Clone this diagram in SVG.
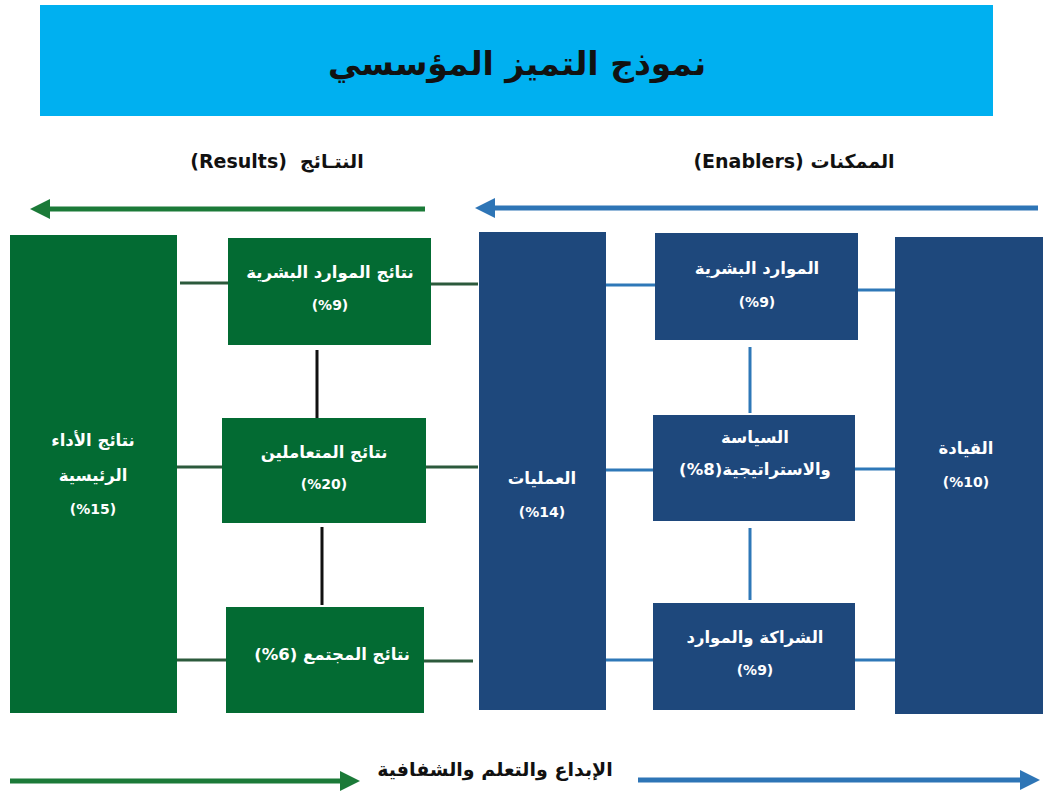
<svg xmlns="http://www.w3.org/2000/svg" width="1043" height="794" viewBox="0 0 1043 794">
<defs>
<style>
.t{font-family:"DejaVu Sans","Noto Sans",sans-serif;font-weight:bold;text-anchor:middle}
.w{fill:#ffffff;font-size:16.5px}
.p{fill:#ffffff;font-size:14px}
.h{fill:#111111;font-size:19px}
.g{fill:#036b33}
.b{fill:#1e487c}
.cg{stroke:#2c5a3c;stroke-width:3;fill:none}
.cb{stroke:#2e78b8;stroke-width:3;fill:none}
.ck{stroke:#111111;stroke-width:3;fill:none}
</style>
<marker id="ag" markerWidth="4" markerHeight="4" refX="2" refY="2" orient="auto" markerUnits="strokeWidth"><path d="M0,0 L4,2 L0,4 z" fill="#1b7a38"/></marker>
<marker id="ab" markerWidth="4" markerHeight="4" refX="2" refY="2" orient="auto" markerUnits="strokeWidth"><path d="M0,0 L4,2 L0,4 z" fill="#2e75b6"/></marker>
</defs>
<rect width="1043" height="794" fill="#ffffff"/>
<g id="title">
<rect x="40" y="5" width="953" height="111" fill="#00b0f0"/>
<text class="t" x="517" y="75" font-size="33" fill="#111111">نموذج التميز المؤسسي</text>
</g>
<g id="headers">
<text class="t h" x="277" y="168" xml:space="preserve">(Results)  النتـائج</text>
<text class="t h" x="794" y="168">(Enablers) الممكنات</text>
</g>
<g id="connectors">
<line x1="425" y1="209" x2="40" y2="209" stroke="#1b7a38" stroke-width="5" marker-end="url(#ag)"/>
<line x1="1038" y1="208" x2="485" y2="208" stroke="#2e75b6" stroke-width="5" marker-end="url(#ab)"/>
<line x1="10" y1="781" x2="350" y2="781" stroke="#1b7a38" stroke-width="5" marker-end="url(#ag)"/>
<line x1="638" y1="780" x2="1030" y2="780" stroke="#2e75b6" stroke-width="5" marker-end="url(#ab)"/>
<path class="cg" d="M180,283 H228 M431,284 H478 M177,467 H222 M426,467 H478 M177,660 H226 M424,661 H473"/>
<path class="ck" d="M317,350 V418 M322,527 V605"/>
<path class="cb" d="M606,285 H655 M858,290 H895 M606,470 H653 M855,469 H895 M606,660 H653 M855,660 H895 M750,347 V413 M750,528 V600"/>
</g>
<g id="n-kpi">
<rect class="g" x="10" y="235" width="167" height="478"/>
<text class="t w" x="93" y="446">نتائج الأداء</text>
<text class="t w" x="93" y="481">الرئيسية</text>
<text class="t p" x="93" y="514">(%15)</text>
</g>
<g id="n-hr-results">
<rect class="g" x="228" y="238" width="203" height="107"/>
<text class="t w" x="330" y="278">نتائج الموارد البشرية</text>
<text class="t p" x="330" y="310">(%9)</text>
</g>
<g id="n-customer-results">
<rect class="g" x="222" y="418" width="204" height="105"/>
<text class="t w" x="324" y="458">نتائج المتعاملين</text>
<text class="t p" x="324" y="489">(%20)</text>
</g>
<g id="n-society-results">
<rect class="g" x="226" y="607" width="198" height="106"/>
<text class="t w" x="332" y="660">(%6) نتائج المجتمع</text>
</g>
<g id="n-processes">
<rect class="b" x="479" y="232" width="127" height="478"/>
<text class="t w" x="542" y="484">العمليات</text>
<text class="t p" x="542" y="517">(%14)</text>
</g>
<g id="n-hr">
<rect class="b" x="655" y="233" width="203" height="107"/>
<text class="t w" x="757" y="274">الموارد البشرية</text>
<text class="t p" x="757" y="307">(%9)</text>
</g>
<g id="n-strategy">
<rect class="b" x="653" y="415" width="202" height="106"/>
<text class="t w" x="755" y="443">السياسة</text>
<text class="t w" x="755" y="475">(%8)والاستراتيجية</text>
</g>
<g id="n-partnership">
<rect class="b" x="653" y="603" width="202" height="107"/>
<text class="t w" x="755" y="643">الشراكة والموارد</text>
<text class="t p" x="755" y="675">(%9)</text>
</g>
<g id="n-leadership">
<rect class="b" x="895" y="237" width="148" height="477"/>
<text class="t w" x="966" y="454">القيادة</text>
<text class="t p" x="966" y="487">(%10)</text>
</g>
<g id="footer">
<text class="t h" x="495" y="776" font-size="20">الإبداع والتعلم والشفافية</text>
</g>
</svg>
